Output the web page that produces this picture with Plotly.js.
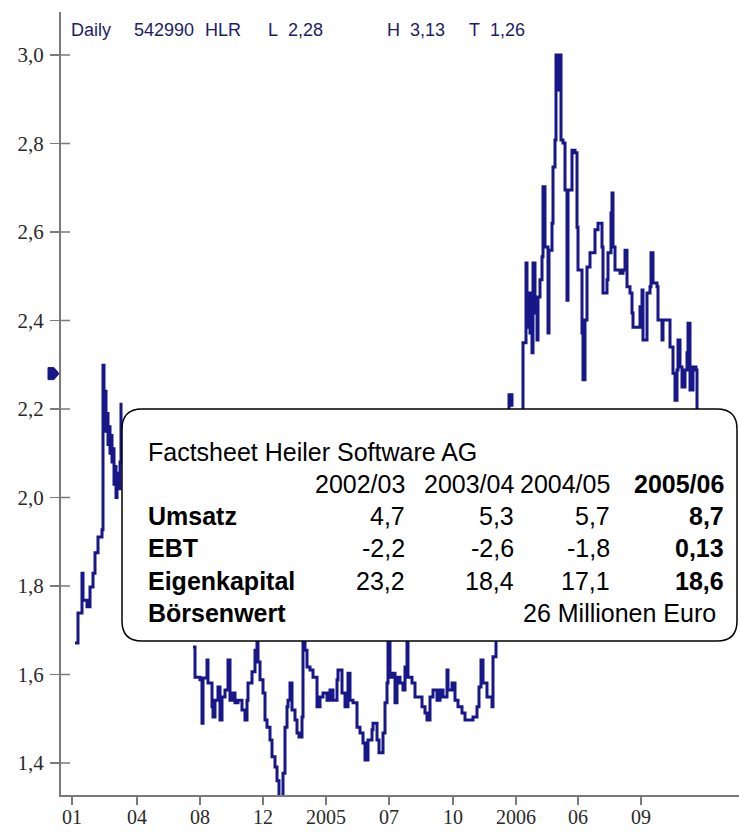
<!DOCTYPE html>
<html><head><meta charset="utf-8">
<script src="https://cdn.plot.ly/plotly-3.0.1.min.js"></script>
<style>html,body{margin:0;padding:0;background:#fff}#chart{width:739px;height:832px}</style>
</head><body><div id="chart"></div>
<script>
// trading-day index and closing price (EUR); null = stretch hidden behind the factsheet box
const days = [14,17,21,22,26,29,32,34,37,41,42,43,44,45,46,47,48,49,50,51,52,53,54,55,56,57,58,59,60,
 96,
 132,134,139,141,142,146,147,151,152,154,157,159,161,164,167,169,171,174,177,181,184,186,187,191,194,196,197,199,202,204,206,209,211,214,216,218,221,222,224,226,227,229,231,234,236,238,241,242,244,246,249,252,256,259,262,266,269,272,276,277,281,284,287,289,292,296,299,302,304,307,311,312,316,318,321,322,324,326,327,329,331,334,336,339,342,344,346,347,351,354,357,361,364,366,369,372,376,379,382,386,387,391,394,397,401,404,409,412,416,418,420,422,426,431,432,435,
 440,
 446,448,451,
 454,
 461,462,465,466,467,469,471,472,474,476,477,479,481,482,484,487,488,491,492,494,495,497,499,500,502,504,506,507,511,514,516,517,521,522,524,526,529,534,537,541,542,546,547,550,551,552,554,559,562,564,566,569,571,572,576,579,581,582,586,589,590,592,596,597,601,602,607,609,612,614,616,617,619,621,624,626,627,629,632,635,636];
const prices = [1.671,1.739,1.829,1.768,1.753,1.798,1.829,1.875,1.911,1.927,2.299,2.20,2.24,2.15,2.19,2.12,2.16,2.10,2.14,2.08,2.11,2.03,2.07,2.00,2.04,2.055,2.02,2.08,2.214,
 null,
 1.662,1.594,1.588,1.490,1.592,1.633,1.581,1.527,1.504,1.542,1.572,1.497,1.549,1.565,1.633,1.542,1.558,1.536,1.542,1.520,1.497,1.542,1.581,1.606,1.655,1.68,1.628,1.588,1.558,1.497,1.481,1.452,1.414,1.391,1.36,1.30,1.29,1.377,1.481,1.527,1.542,1.581,1.520,1.497,1.468,1.459,1.504,1.68,1.655,1.617,1.610,1.594,1.527,1.549,1.558,1.542,1.565,1.542,1.588,1.610,1.558,1.527,1.603,1.542,1.536,1.481,1.468,1.445,1.407,1.452,1.475,1.490,1.452,1.423,1.423,1.468,1.536,1.581,1.68,1.594,1.603,1.536,1.594,1.581,1.565,1.617,1.675,1.594,1.581,1.549,1.549,1.527,1.513,1.497,1.549,1.565,1.542,1.565,1.549,1.610,1.565,1.581,1.542,1.527,1.513,1.497,1.497,1.504,1.527,1.572,1.633,1.581,1.549,1.527,1.640,1.70,
 null,
 2.19,2.232,2.205,
 null,
 2.19,2.35,2.53,2.385,2.462,2.372,2.327,2.53,2.417,2.356,2.453,2.492,2.544,2.702,2.566,2.372,2.559,2.620,2.747,2.808,3.0,2.921,3.0,2.808,2.801,2.695,2.446,2.695,2.785,2.779,2.611,2.514,2.372,2.266,2.401,2.521,2.553,2.605,2.620,2.566,2.462,2.492,2.553,2.643,2.688,2.566,2.514,2.507,2.514,2.559,2.476,2.462,2.417,2.385,2.385,2.431,2.469,2.356,2.462,2.476,2.553,2.485,2.476,2.401,2.356,2.401,2.401,2.340,2.281,2.220,2.288,2.356,2.295,2.250,2.288,2.327,2.394,2.243,2.295,2.288,2.18];
const lastPrice = 2.28;
const xTickDays = [11,76,139,202,265,328,392,455,517,580];
const xTickLabels = ['01','04','08','12','2005','07','10','2006','06','09'];
const yTickVals = [1.4,1.6,1.8,2.0,2.2,2.4,2.6,2.8,3.0];
const yTickLabels = ['1,4','1,6','1,8','2,0','2,2','2,4','2,6','2,8','3,0'];
const headerItems = ['Daily','542990','HLR','L\u00a0\u00a02,28','H\u00a0\u00a03,13','T\u00a0\u00a01,26'];
const factTitle = 'Factsheet Heiler Software AG';
const years = ['2002/03','2003/04','2004/05','2005/06'];
const rowLabels = ['Umsatz','EBT','Eigenkapital'];
const umsatz = ['4,7','5,3','5,7','8,7'];
const ebt = ['-2,2','-2,6','-1,8','0,13'];
const eigenkapital = ['23,2','18,4','17,1','18,6'];
const boersenwertLabel = 'Börsenwert';
const boersenwert = '26 Millionen Euro';

// layout helpers: pixel -> axis units
const X = px => px - 61;
const Y = py => 3 - (py - 55) / 442.5;
const yRange = [Y(795), Y(12)];
const navy = '#17178a';

const annotations = [];
const headerLeft = [69,132,203,266,385,467];
headerItems.forEach((t,i)=>annotations.push({xref:'x',yref:'y',x:X(headerLeft[i]),y:Y(30),text:t,showarrow:false,xanchor:'left',yanchor:'middle',font:{family:'Liberation Sans, Arial, sans-serif',size:18,color:'#1c1c68'}}));

const boxFont = {family:'Liberation Sans, Arial, sans-serif',size:25,color:'#000'};
const labelX = 146;
const colRight = [407,516,612,726];
annotations.push({xref:'x',yref:'y',x:X(labelX),y:Y(452),text:factTitle,showarrow:false,xanchor:'left',yanchor:'middle',font:boxFont});
years.forEach((t,i)=>annotations.push({xref:'x',yref:'y',x:X(colRight[i]),y:Y(484),text:i===3?'<b>'+t+'</b>':t,showarrow:false,xanchor:'right',yanchor:'middle',font:boxFont}));
const rows = [umsatz, ebt, eigenkapital];
const rowY = [516,548,581];
rows.forEach((vals,r)=>{
  annotations.push({xref:'x',yref:'y',x:X(labelX),y:Y(rowY[r]),text:'<b>'+rowLabels[r]+'</b>',showarrow:false,xanchor:'left',yanchor:'middle',font:boxFont});
  vals.forEach((v,i)=>annotations.push({xref:'x',yref:'y',x:X(colRight[i]),y:Y(rowY[r]),text:i===3?'<b>'+v+'</b>':v,showarrow:false,xanchor:'right',yanchor:'middle',font:boxFont}));
});
annotations.push({xref:'x',yref:'y',x:X(labelX),y:Y(613),text:'<b>'+boersenwertLabel+'</b>',showarrow:false,xanchor:'left',yanchor:'middle',font:boxFont});
annotations.push({xref:'x',yref:'y',x:X(718),y:Y(613),text:boersenwert,showarrow:false,xanchor:'right',yanchor:'middle',font:boxFont});

// rounded box
const bx1 = X(122), bx2 = X(737), byt = Y(409), byb = Y(641);
const rx = 20, ry = 20/442.5;
const path = `M${bx1+rx},${byt} L${bx2-rx},${byt} Q${bx2},${byt} ${bx2},${byt-ry} L${bx2},${byb+ry} Q${bx2},${byb} ${bx2-rx},${byb} L${bx1+rx},${byb} Q${bx1},${byb} ${bx1},${byb+ry} L${bx1},${byt-ry} Q${bx1},${byt} ${bx1+rx},${byt} Z`;

const shapes = [];
// inner halves of the y ticks (they cross the axis)
yTickVals.forEach(v=>shapes.push({type:'line',xref:'x',yref:'y',x0:0,x1:9,y0:v,y1:v,line:{color:'#7a7a7a',width:1.5},layer:'below'}));
// last-price flag left of the axis
const fx0 = -13/678, fx1 = -7/678, fx2 = -2/678, fh = 6/442.5;
shapes.push({type:'path',xref:'paper',yref:'y',path:`M${fx0},${lastPrice+fh} L${fx1},${lastPrice+fh} L${fx2},${lastPrice} L${fx1},${lastPrice-fh} L${fx0},${lastPrice-fh} Z`,fillcolor:navy,line:{color:navy,width:1}});
shapes.push({type:'path',xref:'x',yref:'y',path:path,fillcolor:'#fff',line:{color:'#000',width:1.5},layer:'above'});

const tickFont = {family:'Liberation Serif, Times New Roman, serif',size:21,color:'#2a2a2a'};
const traces = [
  {x:days,y:prices,type:'scatter',mode:'lines',connectgaps:false,line:{color:navy,width:3,shape:'hv'},hoverinfo:'skip'}
];
const layout = {
  width:739,height:832,margin:{l:61,r:0,t:12,b:37},
  paper_bgcolor:'#fff',plot_bgcolor:'#fff',showlegend:false,
  xaxis:{range:[0,678],showline:true,linecolor:'#7a7a7a',linewidth:2,ticks:'outside',ticklen:8,tickwidth:1.5,tickcolor:'#7a7a7a',
    tickvals:xTickDays,ticktext:xTickLabels,tickfont:{family:'Liberation Serif, Times New Roman, serif',size:20,color:'#2a2a2a'},ticklabelstandoff:-5,showgrid:false,zeroline:false,fixedrange:true},
  yaxis:{range:yRange,showline:true,linecolor:'#7a7a7a',linewidth:2,ticks:'outside',ticklen:9,tickwidth:1.5,tickcolor:'#7a7a7a',
    tickvals:yTickVals,ticktext:yTickLabels,tickfont:tickFont,showgrid:false,zeroline:false,fixedrange:true,ticklabelstandoff:2},
  shapes:shapes,
  annotations:annotations
};
Plotly.newPlot('chart',traces,layout,{staticPlot:true,displayModeBar:false});
</script></body></html>
